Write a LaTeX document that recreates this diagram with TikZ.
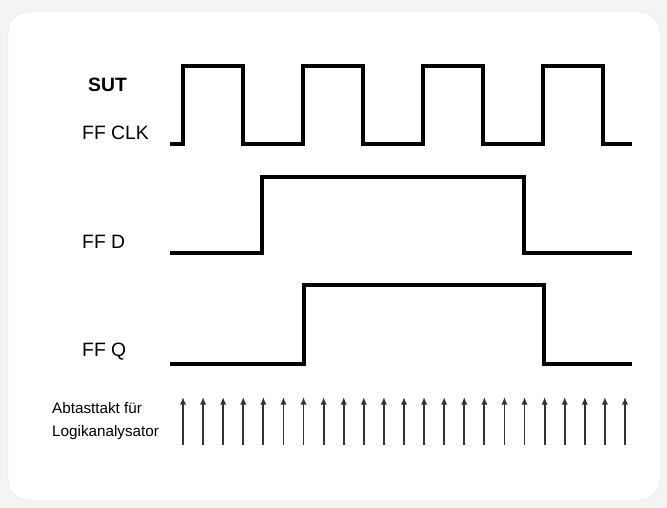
\documentclass[tikz,border=0pt]{standalone}
\usepackage{fontspec}
\setmainfont{Liberation Sans}
\usetikzlibrary{arrows.meta, positioning}
\definecolor{pagebg}{HTML}{F4F4F4}
\definecolor{cardbg}{HTML}{FFFFFF}
\definecolor{cardrim}{HTML}{E4E4E4}
\definecolor{tick}{HTML}{333333}

\begin{document}
\begin{tikzpicture}[
      x=0.03cm, y=-0.03cm,
      sig/.style={line width=2.9pt, line join=miter, black},
      lbl/.style={anchor=west, inner sep=0pt, font=\fontsize{16.5}{19}\selectfont},
      lblbold/.style={lbl, font=\bfseries\fontsize{16.5}{19}\selectfont},
      sample/.style={-{Latex[length=2.3mm, width=1.9mm]}, line width=1.6pt, tick}
    ]
      \fill[pagebg] (0,0) rectangle (667,508);
      \draw[cardrim, fill=cardbg, rounded corners=17] (8,12) rectangle (660,500);
      \useasboundingbox (0,0) rectangle (667,508);

      % signal names
      \node[lblbold] (sut) at (88,85) {SUT};
      \node[lbl] (clk) at (82,133) {FF CLK};
      \node[lbl] (ffd) at (82,242) {FF D};
      \node[lbl] (ffq) at (82,352) {FF Q};
      \node[anchor=west, inner sep=0pt, align=left,
            font=\fontsize{13}{19.5}\selectfont] (abt) at (52,421)
            {Abtasttakt für\\Logikanalysator};

      % waveforms
      \draw[sig] (170,144) \foreach \t in {183,303,423,543} {
          -- (\t,144) -- (\t,66) -- (\t+60,66) -- (\t+60,144)} -- (632,144);
      \draw[sig] (170,253) -- (262,253) -- (262,177) -- (524,177) -- (524,253) -- (632,253);
      \draw[sig] (170,364) -- (304,364) -- (304,285) -- (544,285) -- (544,364) -- (632,364);

      % sampling clock
      \foreach \i in {0,...,22}
        \draw[sample] ({183+20.09*\i},445) -- ({183+20.09*\i},397);
    \end{tikzpicture}
\end{document}
